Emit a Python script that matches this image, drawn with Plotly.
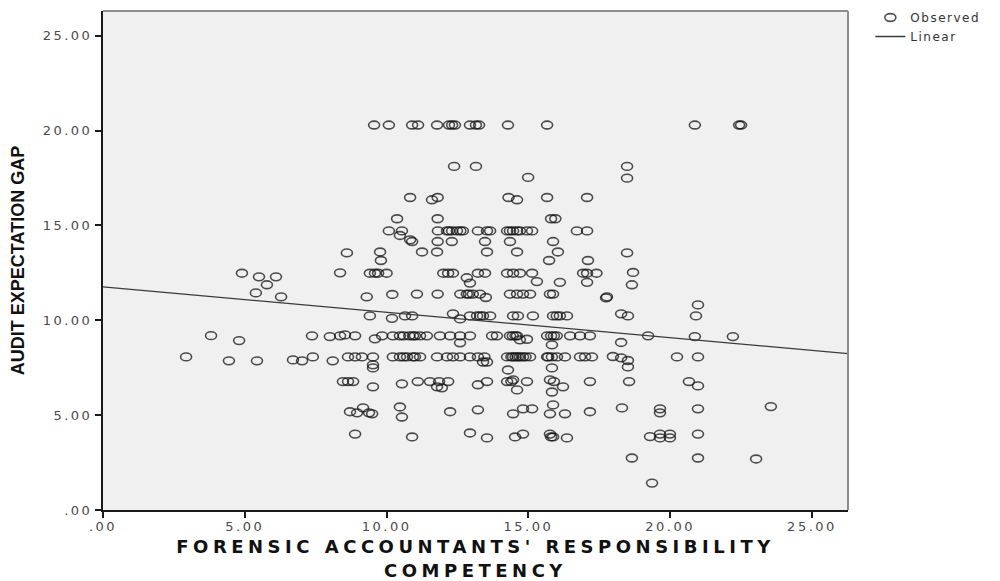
import plotly.graph_objects as go

# Observed cases: forensic accountants' responsibility competency (x)
# against audit expectation gap (y), written row by row of the gap score.
competency = [
    # gap ~20.3
    9.56, 10.08, 10.90, 11.11, 11.78, 12.20, 12.31, 12.41, 12.94, 13.15, 13.26,
    14.28, 15.66, 20.87, 22.43, 22.50,
    # gap ~18 / 17.5
    12.38, 13.15, 18.48, 14.99, 18.48,
    # gap ~16.4
    10.83, 11.60, 11.80, 14.30, 14.60, 15.66, 17.07,
    # gap ~15.3
    10.37, 11.80, 15.80, 15.95,
    # gap ~14.7
    10.08, 10.54, 11.81, 12.13, 12.20, 12.31, 12.48, 12.60, 12.69, 13.22, 13.54,
    13.65, 14.25, 14.35, 14.46, 14.60, 14.70, 14.95, 15.13, 16.71, 17.07,
    # gap ~14.2-14.5
    10.47, 10.83, 10.90, 11.80, 12.30, 13.47, 14.35, 15.87,
    # gap ~13.6
    8.60, 9.77, 11.25, 11.78, 13.54, 14.60, 16.04, 18.48,
    # gap ~13.2
    9.80, 15.73, 17.10,
    # gap ~12.5
    4.90, 5.50, 6.10, 8.36, 9.41, 9.59, 9.70, 10.00, 12.00, 12.17, 12.34, 13.22,
    13.47, 14.25, 14.46, 14.70, 15.13, 16.93, 17.07, 17.40, 18.69,
    # gap ~12.0
    5.78, 12.83, 12.94, 15.30, 16.11, 17.07, 18.65,
    # gap ~11.3
    5.39, 6.28, 9.30, 10.20, 11.07, 11.80, 12.60, 12.83, 12.90, 13.04, 13.29,
    13.50, 14.35, 14.60, 14.81, 15.06, 15.76, 15.87, 17.74, 17.77,
    # gap ~10.2
    9.41, 10.19, 10.65, 10.90, 12.34, 12.59, 12.94, 13.19, 13.30, 13.40, 13.65,
    14.46, 14.63, 15.16, 15.87, 16.00, 16.11, 16.36, 18.27, 18.51, 20.91, 20.98,
    # gap ~9.1
    3.81, 4.80, 7.37, 8.00, 8.36, 8.53, 8.89, 9.59, 9.84, 10.22, 10.47, 10.60,
    10.80, 10.93, 11.00, 11.18, 11.42, 11.88, 12.24, 12.59, 12.59, 12.94, 13.72,
    13.89, 14.35, 14.45, 14.55, 14.60, 14.70, 14.95, 15.66, 15.80, 15.83, 15.90,
    16.00, 16.47, 16.82, 17.17, 18.27, 19.22, 20.87, 22.21,
    # gap ~8.0
    2.93, 4.44, 5.43, 6.70, 7.02, 7.40, 8.10, 8.64, 8.89, 9.13, 9.52, 9.52, 9.52,
    10.22, 10.47, 10.60, 10.72, 10.93, 11.00, 11.18, 11.78, 12.13, 12.34, 12.59,
    12.94, 13.22, 13.40, 13.45, 13.54, 14.25, 14.28, 14.40, 14.46, 14.55, 14.63,
    14.70, 14.81, 14.90, 15.06, 15.66, 15.70, 15.83, 15.83, 16.01, 16.29, 16.82,
    17.00, 17.24, 17.98, 18.27, 18.51, 18.51, 20.24, 20.98,
    # gap ~6.7
    8.46, 8.64, 8.82, 9.52, 10.54, 11.10, 11.53, 11.78, 11.85, 11.95, 12.17,
    13.22, 13.54, 14.25, 14.40, 14.46, 14.60, 14.95, 15.76, 15.83, 15.90, 16.22,
    17.17, 18.55, 20.66, 20.98,
    # gap ~5.2
    8.71, 8.96, 9.17, 9.38, 9.49, 10.47, 10.54, 12.24, 13.22, 14.46, 14.81,
    15.13, 15.76, 15.87, 16.29, 17.17, 18.30, 19.64, 19.64, 20.98, 23.55,
    # gap ~4.0
    8.89, 10.90, 12.94, 13.54, 14.53, 14.81, 15.76, 15.80, 15.87, 16.36, 19.29,
    19.64, 19.99, 19.64, 19.99, 20.98,
    # gap ~2.7 / 1.4
    18.65, 20.98, 23.03, 19.36,
]

expectation_gap = [
    # gap ~20.3
    20.29, 20.29, 20.29, 20.29, 20.29, 20.29, 20.29, 20.29, 20.29, 20.29, 20.29,
    20.29, 20.29, 20.29, 20.29, 20.29,
    # gap ~18 / 17.5
    18.11, 18.11, 18.11, 17.53, 17.49,
    # gap ~16.4
    16.47, 16.35, 16.47, 16.47, 16.35, 16.47, 16.47,
    # gap ~15.3
    15.35, 15.35, 15.35, 15.35,
    # gap ~14.7
    14.71, 14.71, 14.71, 14.71, 14.71, 14.71, 14.71, 14.71, 14.71, 14.71, 14.71,
    14.71, 14.71, 14.71, 14.71, 14.71, 14.71, 14.71, 14.71, 14.71, 14.71,
    # gap ~14.2-14.5
    14.47, 14.24, 14.15, 14.15, 14.15, 14.15, 14.15, 14.15,
    # gap ~13.6
    13.55, 13.60, 13.60, 13.60, 13.60, 13.60, 13.60, 13.55,
    # gap ~13.2
    13.15, 13.15, 13.15,
    # gap ~12.5
    12.48, 12.29, 12.29, 12.50, 12.48, 12.48, 12.48, 12.48, 12.48, 12.48, 12.48,
    12.48, 12.48, 12.48, 12.48, 12.48, 12.48, 12.48, 12.48, 12.48, 12.52,
    # gap ~12.0
    11.87, 12.24, 11.96, 12.04, 12.00, 12.00, 11.87,
    # gap ~11.3
    11.44, 11.23, 11.23, 11.36, 11.38, 11.38, 11.38, 11.38, 11.38, 11.38, 11.38,
    11.20, 11.38, 11.38, 11.38, 11.38, 11.38, 11.38, 11.18, 11.23,
    # gap ~10.2
    10.23, 10.10, 10.23, 10.23, 10.34, 10.07, 10.23, 10.23, 10.23, 10.23, 10.23,
    10.23, 10.23, 10.23, 10.23, 10.23, 10.23, 10.23, 10.34, 10.23, 10.23, 10.81,
    # gap ~9.1
    9.19, 8.93, 9.18, 9.14, 9.18, 9.23, 9.18, 9.02, 9.18, 9.18, 9.18, 9.18,
    9.18, 9.18, 9.18, 9.18, 9.18, 9.18, 9.18, 9.18, 8.81, 9.18, 9.18,
    9.18, 9.18, 9.18, 9.18, 9.18, 8.97, 9.00, 9.18, 9.18, 8.70, 9.18,
    9.18, 9.18, 9.18, 9.18, 8.83, 9.18, 9.14, 9.14,
    # gap ~8.0
    8.07, 7.86, 7.86, 7.91, 7.86, 8.07, 7.86, 8.07, 8.07, 8.07, 8.07, 7.65, 7.49,
    8.07, 8.07, 8.07, 8.07, 8.07, 8.07, 8.07, 8.07, 8.07, 8.07, 8.07,
    8.07, 8.07, 7.80, 8.07, 7.80, 8.07, 7.38, 8.07, 8.07, 8.07, 8.07,
    8.07, 8.07, 8.07, 8.07, 8.07, 8.07, 8.07, 7.49, 8.07, 8.07, 8.07,
    8.07, 8.07, 8.09, 8.02, 7.88, 7.54, 8.07, 8.07,
    # gap ~6.7
    6.77, 6.77, 6.77, 6.49, 6.65, 6.77, 6.77, 6.49, 6.77, 6.44, 6.77,
    6.60, 6.77, 6.77, 6.77, 6.86, 6.33, 6.77, 6.86, 6.22, 6.77, 6.49,
    6.77, 6.77, 6.77, 6.54,
    # gap ~5.2
    5.18, 5.12, 5.38, 5.12, 5.07, 5.43, 4.90, 5.18, 5.28, 5.07, 5.33,
    5.33, 5.07, 5.54, 5.07, 5.18, 5.38, 5.33, 5.12, 5.33, 5.45,
    # gap ~4.0
    4.00, 3.85, 4.06, 3.80, 3.85, 4.00, 4.00, 3.85, 3.85, 3.80, 3.87,
    4.00, 4.00, 3.80, 3.80, 4.00,
    # gap ~2.7 / 1.4
    2.74, 2.74, 2.69, 1.42,
]

# Fitted linear trend (intercept, slope)
fit_intercept = 11.76
fit_slope = -0.134

x_range = [0, 26.27]
y_range = [0, 26.3]
tick_values = [0, 5, 10, 15, 20, 25]
tick_labels = [".00", "5.00", "10.00", "15.00", "20.00", "25.00"]

fit_x = x_range
fit_y = [fit_intercept + fit_slope * v for v in fit_x]

fig = go.Figure()
fig.add_trace(go.Scatter(
    x=competency, y=expectation_gap, mode="markers", name="Observed",
    marker=dict(symbol="circle-open", size=8.6,
                color="rgba(20,20,20,0.75)",
                line=dict(width=1.6, color="rgba(20,20,20,0.75)")),
    cliponaxis=False,
))
fig.add_trace(go.Scatter(
    x=fit_x, y=fit_y, mode="lines", name="Linear",
    line=dict(color="#3a3a3a", width=1.3),
))

tick_font = dict(family="DejaVu Sans", size=13, color="#4a4a4a")

fig.update_layout(
    width=1000, height=581, autosize=False,
    margin=dict(l=103, r=152, t=11, b=71, pad=0),
    paper_bgcolor="white",
    plot_bgcolor="#f0f0f0",
    showlegend=True,
    legend=dict(x=1.03, y=1.0, xanchor="left", yanchor="top",
                bgcolor="rgba(0,0,0,0)", borderwidth=0,
                font=dict(family="DejaVu Sans", size=12, color="#333"),
                tracegroupgap=0, itemwidth=30),
    xaxis=dict(
        range=x_range, tickvals=tick_values, ticktext=tick_labels,
        automargin=False,
        showgrid=False, zeroline=False,
        showline=True, linecolor="#1a1a1a", linewidth=2,
        ticks="outside", ticklen=6, tickwidth=1.5, tickcolor="#1a1a1a",
        tickfont=tick_font, ticklabelstandoff=-3,
        title=dict(text="FORENSIC ACCOUNTANTS' RESPONSIBILITY<br>COMPETENCY",
                   font=dict(family="DejaVu Sans", size=18, color="#111"),
                   standoff=8),
    ),
    yaxis=dict(
        range=y_range, tickvals=tick_values, ticktext=tick_labels,
        automargin=False,
        showgrid=False, zeroline=False,
        showline=True, linecolor="#1a1a1a", linewidth=2,
        ticks="outside", ticklen=6, tickwidth=1.5, tickcolor="#1a1a1a",
        tickfont=tick_font,
        title=dict(text="<b>AUDIT EXPECTATION GAP</b>",
                   font=dict(family="Liberation Sans", size=18, color="#111"),
                   standoff=26),
    ),
    shapes=[
        # upper and right frame edges of the plot area
        dict(type="line", xref="paper", yref="paper", x0=0, x1=1, y0=1, y1=1,
             line=dict(color="#8c8c8c", width=2)),
        dict(type="line", xref="paper", yref="paper", x0=1, x1=1, y0=0, y1=1,
             line=dict(color="#8c8c8c", width=2)),
    ],
)
fig.update_xaxes(title_font_weight="bold")

# Elliptical markers, wider text tracking and a raised legend, applied after each render.
post = """
var gd = document.getElementById('{plot_id}');
function tidy(){
  gd.querySelectorAll('.scatterlayer path.point, .legend path.scatterpts').forEach(function(p){
    var t = p.getAttribute('transform') || '';
    if (t.indexOf('scale') < 0) { p.setAttribute('transform', t + ' scale(1.28,0.9)'); }
    p.style.vectorEffect = 'non-scaling-stroke';
  });
  gd.querySelectorAll('.xtick text, .ytick text').forEach(function(e){ e.style.letterSpacing = '2.5px'; });
  gd.querySelectorAll('.g-xtitle text').forEach(function(e){ e.style.letterSpacing = '4.5px'; });
  gd.querySelectorAll('.legendtext').forEach(function(e){ e.style.letterSpacing = '1.5px'; });
  gd.querySelectorAll('clipPath[id^="legend"] rect').forEach(function(r){ r.setAttribute('width', '200'); });
  var lg = gd.querySelector('g.legend');
  if (lg) {
    var t = lg.getAttribute('transform') || '';
    if (t !== lg.getAttribute('data-moved')) {
      var m = /translate\\(\\s*([-\\d.]+)\\s*,\\s*([-\\d.]+)\\s*\\)/.exec(t);
      if (m) {
        var nt = 'translate(' + parseFloat(m[1]) + ',' + (parseFloat(m[2]) - 8) + ')';
        lg.setAttribute('transform', nt);
        lg.setAttribute('data-moved', nt);
      }
    }
  }
}
tidy();
gd.on('plotly_afterplot', tidy);
"""

fig.write_html("out.html", post_script=post)
